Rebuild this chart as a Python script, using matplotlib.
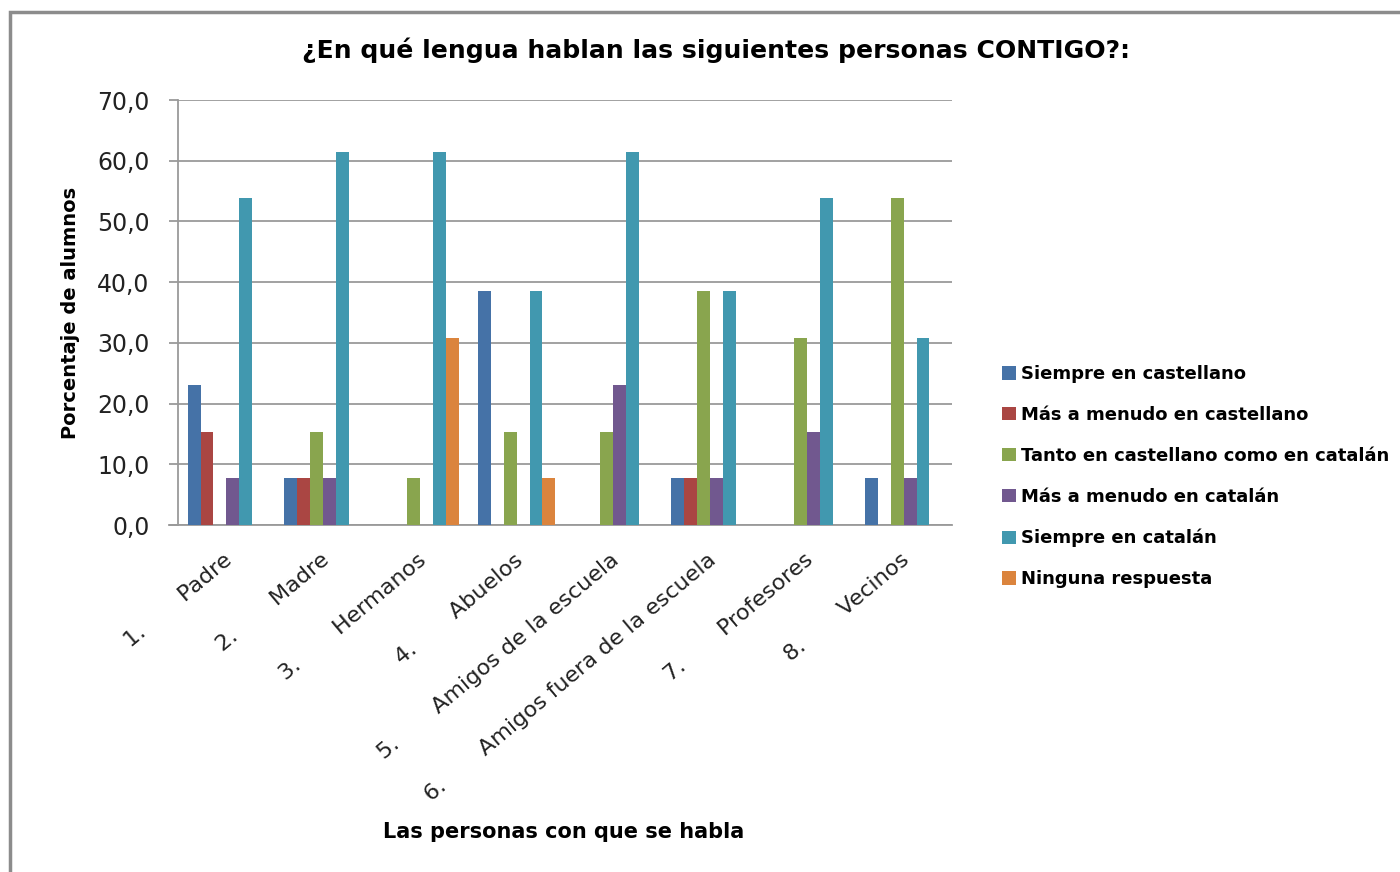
import matplotlib
matplotlib.use('Agg')
import matplotlib.pyplot as plt
import matplotlib.transforms as mtransforms
import numpy as np

categories = ['1.       Padre', '2.       Madre', '3.       Hermanos', '4.       Abuelos',
              '5.       Amigos de la escuela', '6.       Amigos fuera de la escuela',
              '7.       Profesores', '8.       Vecinos']
series = ['Siempre en castellano', 'Más a menudo en castellano',
          'Tanto en castellano como en catalán', 'Más a menudo en catalán',
          'Siempre en catalán', 'Ninguna respuesta']
siempre_cast = [23.1, 7.7, 0.0, 38.5, 0.0, 7.7, 0.0, 7.7]
mas_cast = [15.4, 7.7, 0.0, 0.0, 0.0, 7.7, 0.0, 0.0]
tanto = [0.0, 15.4, 7.7, 15.4, 15.4, 38.5, 30.8, 53.8]
mas_cat = [7.7, 7.7, 0.0, 0.0, 23.1, 7.7, 15.4, 7.7]
siempre_cat = [53.8, 61.5, 61.5, 38.5, 61.5, 38.5, 53.8, 30.8]
ninguna = [0.0, 0.0, 30.8, 7.7, 0.0, 0.0, 0.0, 0.0]
values = [siempre_cast, mas_cast, tanto, mas_cat, siempre_cat, ninguna]
colors = ['#4572A7', '#AA4643', '#89A54E', '#71588F', '#4198AF', '#DB843D']
yticks = [0, 10, 20, 30, 40, 50, 60, 70]

GRAY = '#9a9a9a'
fig = plt.figure(figsize=(14, 8.72), dpi=100)
ax = fig.add_axes([178 / 1400, 1 - 525 / 872, (952 - 178) / 1400, 425 / 872])

# chart-area border (Excel style, runs off the right/bottom edge)
fig.add_artist(plt.Rectangle((10 / 1400, -0.05), 1.1, 1 - 12 / 872 + 0.05,
                             transform=fig.transFigure, fill=False,
                             edgecolor='#8c8c8c', linewidth=2.5))

x = np.arange(len(categories))
w = 0.8 / len(series)
for i, (lab, vals, c) in enumerate(zip(series, values, colors)):
    ax.bar(x - 0.4 + w * (i + 0.5), vals, width=w, color=c, label=lab,
           linewidth=0, zorder=3)

ax.set_xlim(-0.5, len(categories) - 0.5)
ax.set_ylim(0, 70)
ax.set_yticks(yticks)
ax.set_yticklabels([f'{v:.1f}'.replace('.', ',') for v in yticks], fontsize=17,
                   color='#222222')
ax.yaxis.grid(True, color=GRAY, linewidth=1.3, zorder=0)
ax.tick_params(axis='y', length=6.5, color=GRAY, width=1.3, pad=14)
ax.tick_params(axis='x', length=0, pad=2)
for s in ['top', 'right']:
    ax.spines[s].set_visible(False)
for s in ['left', 'bottom']:
    ax.spines[s].set_color(GRAY)
    ax.spines[s].set_linewidth(1.3)
# bottom axis line continues left under the 0 tick
ax.plot([-0.5 - 9 / 97, -0.5], [0, 0], color=GRAY, linewidth=1.3, clip_on=False)

ax.set_xticks(x)
ax.set_xticklabels(categories, rotation=40, ha='right', va='top',
                   rotation_mode='anchor', fontsize=16, color='#222222')
offset = mtransforms.ScaledTranslation(-3 / 100, -22 / 100, fig.dpi_scale_trans)
for t in ax.get_xticklabels():
    t.set_transform(t.get_transform() + offset)

ax.set_ylabel('Porcentaje de alumnos', fontsize=14, fontweight='bold')
ax.yaxis.set_label_coords((80 - 178) / 774, 0.5)
fig.text(564 / 1400, 1 - 832 / 872, 'Las personas con que se habla', fontsize=15,
         fontweight='bold', ha='center', va='center')
fig.text(716 / 1400, 1 - 50 / 872, '¿En qué lengua hablan las siguientes personas CONTIGO?:',
         fontsize=18.1, fontweight='bold', ha='center', va='center')

leg = fig.legend(loc='upper left', bbox_to_anchor=(995 / 1400, 1 - 358 / 872),
                 frameon=False, fontsize=13, handlelength=0.75, handleheight=0.75,
                 handletextpad=0.3, labelspacing=1.27, borderaxespad=0)
for t in leg.get_texts():
    t.set_fontweight('bold')

fig.savefig('out.png', dpi=100)
